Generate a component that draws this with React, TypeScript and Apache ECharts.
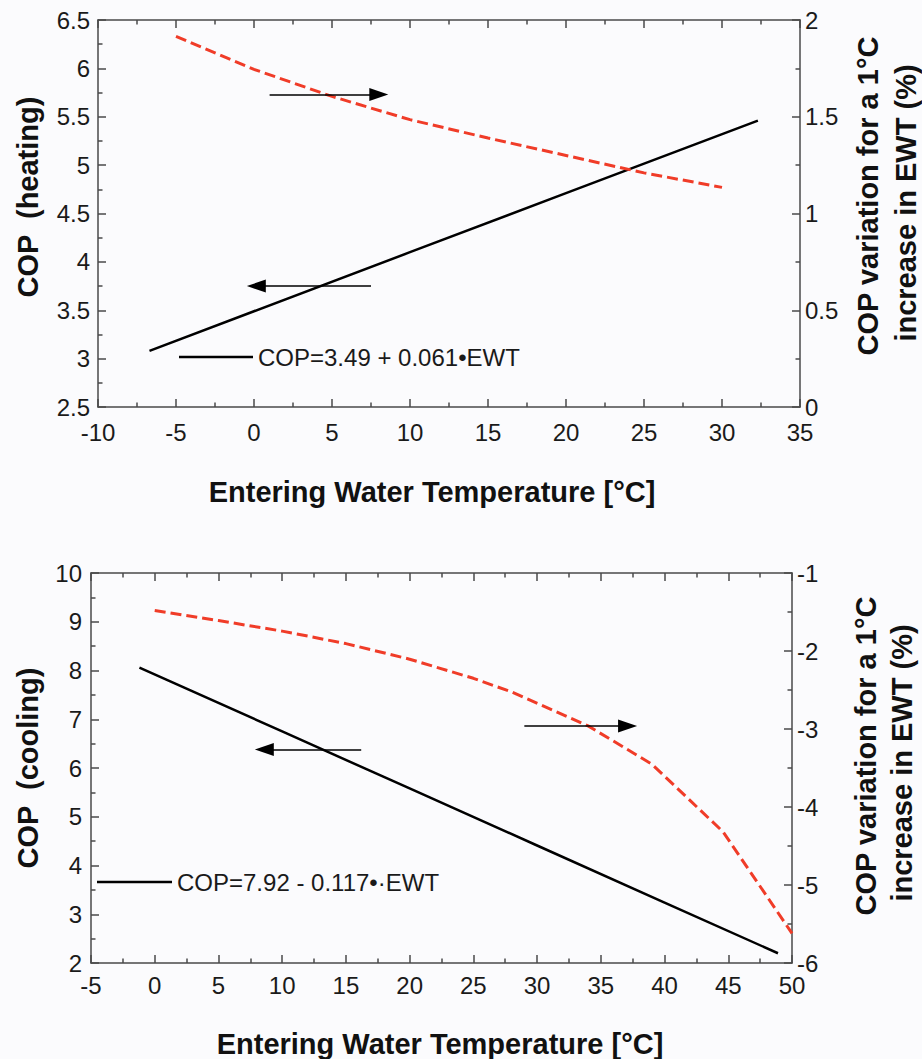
import React, { useEffect, useRef } from "react";
import * as echarts from "echarts";

// ---------- data ----------
// Heating (top panel)
const heatingEwt = [-6.7, 0, 10, 20, 32.3];
const heatingCop = [3.08, 3.49, 4.1, 4.71, 5.46];
const heatingVarEwt = [-5, 0, 5, 10, 15, 20, 25, 30];
const heatingVar = [1.915, 1.745, 1.605, 1.485, 1.39, 1.3, 1.21, 1.135];

// Cooling (bottom panel)
const coolingEwt = [-1.2, 10, 20, 30, 40, 48.9];
const coolingCop = [8.06, 6.75, 5.58, 4.41, 3.24, 2.2];
const coolingVarEwt = [0, 5, 10, 15, 20, 25, 28, 34, 39, 44.6, 50];
const coolingVar = [-1.48, -1.61, -1.745, -1.905, -2.105, -2.35, -2.525, -2.96, -3.45, -4.32, -5.62];

// Arrow annotations (tail -> arrowhead centre) in left-axis data units
const heatingArrows = [
  [[1.0, 5.73], [8.0, 5.73]],
  [[7.5, 3.75], [0.15, 3.75]],
];
const coolingArrows = [
  [[16.2, 6.38], [8.6, 6.38]],
  [[29.0, 6.86], [37.1, 6.86]],
];

// Texts
const heatingLabel = "COP=3.49 + 0.061\u2022EWT";
const coolingLabel = "COP=7.92 - 0.117\u2022\u00B7EWT";
const xTitle = "Entering Water Temperature [\u00B0C]";
const heatingYTitle = "COP  (heating)";
const coolingYTitle = "COP  (cooling)";
const rightTitle1 = "COP variation for a 1\u00B0C";
const rightTitle2 = "increase in EWT (%)";

// Axis ranges
const heatingX = { min: -10, max: 35, interval: 5 };
const heatingY = { min: 2.5, max: 6.5, interval: 0.5 };
const heatingY2 = { min: 0, max: 2, interval: 0.5 };
const coolingX = { min: -5, max: 50, interval: 5 };
const coolingY = { min: 2, max: 10, interval: 1 };
const coolingY2 = { min: -6, max: -1, interval: 1 };

const FONT = "'Liberation Sans', Arial, Helvetica, sans-serif";
const RED = "#f03c28";
const AXIS = "#4a4a4a";
const BG = "#fbfbfd";

const zip = (xs: number[], ys: number[]) => xs.map((x, i) => [x, ys[i]]);

const axisBase = (labelShow: boolean, margin: number) => ({
  type: "value" as const,
  axisLine: { show: true, onZero: false, lineStyle: { color: AXIS, width: 1.5 } },
  axisTick: { show: true, inside: true, length: 8, lineStyle: { color: AXIS, width: 1.5 } },
  minorTick: { show: true, splitNumber: 2, length: 4.5, lineStyle: { color: AXIS, width: 1.5 } },
  splitLine: { show: false },
  minorSplitLine: { show: false },
  axisLabel: {
    show: labelShow,
    margin,
    fontSize: 24,
    color: "#1a1a1a",
    fontFamily: FONT,
    showMinLabel: true,
    showMaxLabel: true,
  },
});

const arrowMarkLine = (arrows: number[][][]) => ({
  silent: true,
  symbol: ["none", "triangle"],
  symbolSize: [13, 19],
  label: { show: false },
  lineStyle: { color: "#000", width: 1.5, type: "solid" },
  emphasis: { disabled: true },
  data: arrows.map(([a, b]) => [{ coord: a }, { coord: b }]),
});

const titleText = (text: string, x: number, y: number, rotated: boolean) => ({
  type: "text",
  x,
  y,
  rotation: rotated ? Math.PI / 2 : 0,
  silent: true,
  style: {
    text,
    x: 0,
    y: 0,
    align: "center",
    verticalAlign: "middle",
    fontSize: 29,
    fontWeight: "bold",
    fontFamily: FONT,
    fill: "#111",
  },
});

export default function App() {
  const ref = useRef<HTMLDivElement>(null);

  useEffect(() => {
    if (!ref.current) return;
    const chart = echarts.init(ref.current, undefined, { renderer: "svg" });

    const option: any = {
      animation: false,
      backgroundColor: BG,
      grid: [
        { left: 98, top: 20, width: 702, height: 387 },
        { left: 91, top: 573, width: 701, height: 390 },
      ],
      xAxis: [
        { ...axisBase(true, 13), gridIndex: 0, position: "bottom", ...heatingX },
        { ...axisBase(false, 8), gridIndex: 0, position: "top", ...heatingX },
        { ...axisBase(true, 10), gridIndex: 1, position: "bottom", ...coolingX },
        { ...axisBase(false, 8), gridIndex: 1, position: "top", ...coolingX },
      ],
      yAxis: [
        { ...axisBase(true, 8), gridIndex: 0, position: "left", ...heatingY },
        { ...axisBase(true, 5), gridIndex: 0, position: "right", ...heatingY2 },
        { ...axisBase(true, 9), gridIndex: 1, position: "left", ...coolingY },
        { ...axisBase(true, 5), gridIndex: 1, position: "right", ...coolingY2 },
      ],
      legend: [
        {
          data: [{ name: heatingLabel, icon: "rect" }],
          left: 179,
          top: 345,
          padding: 0,
          itemWidth: 74,
          itemHeight: 2.5,
          selectedMode: false,
          textStyle: { fontSize: 24, color: "#1a1a1a", fontFamily: FONT },
        },
        {
          data: [{ name: coolingLabel, icon: "rect" }],
          left: 97,
          top: 870,
          padding: 0,
          itemWidth: 75,
          itemHeight: 2.5,
          selectedMode: false,
          textStyle: { fontSize: 24, color: "#1a1a1a", fontFamily: FONT },
        },
      ],
      series: [
        {
          name: heatingLabel,
          type: "line",
          xAxisIndex: 0,
          yAxisIndex: 0,
          data: zip(heatingEwt, heatingCop),
          showSymbol: false,
          color: "#000",
          lineStyle: { color: "#000", width: 2.5 },
          markLine: arrowMarkLine(heatingArrows),
        },
        {
          name: "heating variation",
          type: "line",
          xAxisIndex: 0,
          yAxisIndex: 1,
          data: zip(heatingVarEwt, heatingVar),
          showSymbol: false,
          color: RED,
          lineStyle: { color: RED, width: 3, type: [11, 5] },
        },
        {
          name: coolingLabel,
          type: "line",
          xAxisIndex: 2,
          yAxisIndex: 2,
          data: zip(coolingEwt, coolingCop),
          showSymbol: false,
          color: "#000",
          lineStyle: { color: "#000", width: 2.5 },
          markLine: arrowMarkLine(coolingArrows),
        },
        {
          name: "cooling variation",
          type: "line",
          xAxisIndex: 2,
          yAxisIndex: 3,
          data: zip(coolingVarEwt, coolingVar),
          showSymbol: false,
          color: RED,
          lineStyle: { color: RED, width: 3, type: [11, 5] },
        },
      ],
      graphic: [
        titleText(heatingYTitle, 28, 197, true),
        titleText(rightTitle1, 868, 196, true),
        titleText(rightTitle2, 906, 203, true),
        titleText(xTitle, 432, 492, false),
        titleText(coolingYTitle, 28, 768, true),
        titleText(rightTitle1, 866, 756, true),
        titleText(rightTitle2, 902, 763, true),
        titleText(xTitle, 440, 1044, false),
      ],
    };

    chart.setOption(option);
    return () => chart.dispose();
  }, []);

  return (
    <div
      ref={ref}
      style={{ position: "fixed", left: 0, top: 0, width: 922, height: 1059, background: BG }}
    />
  );
}
